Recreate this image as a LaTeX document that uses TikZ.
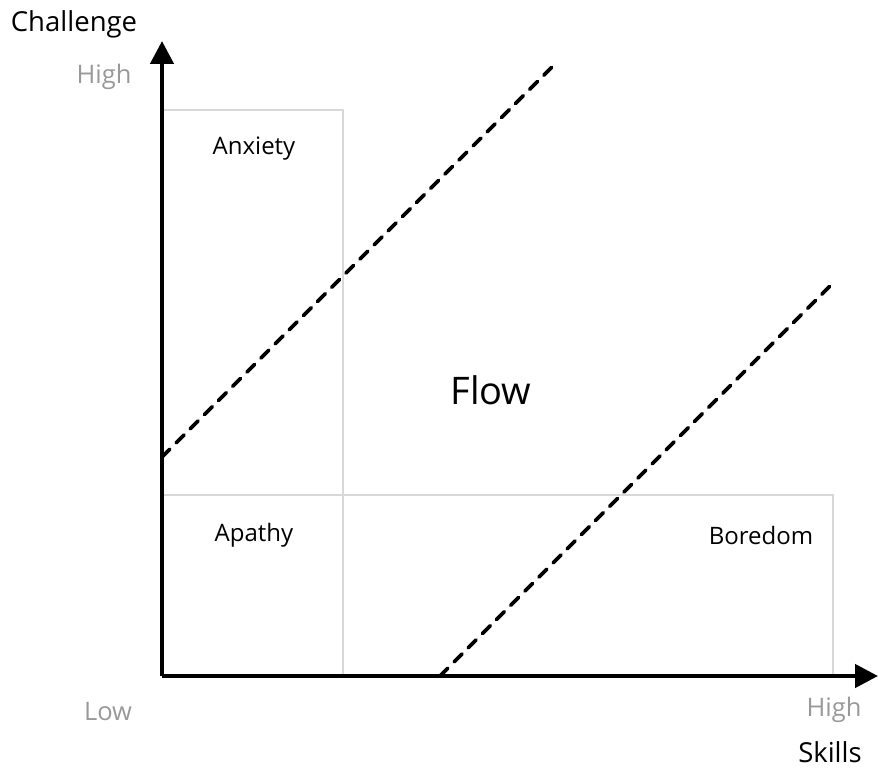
\documentclass[tikz,border=0pt]{standalone}
\usepackage{fontspec}
\setmainfont{Open Sans}
\usetikzlibrary{arrows.meta}
\definecolor{axisgray}{HTML}{999999}
\definecolor{gridgray}{HTML}{D8D8D8}
\tikzset{
  axisline/.style={line width=4.5pt, -{Triangle[length=23pt,width=23pt]}},
  gridline/.style={draw=gridgray, line width=1.5pt},
  flowline/.style={line width=3.8pt, dash pattern=on 11pt off 9pt, line cap=round},
  zonelabel/.style={font=\fontsize{24}{28}\selectfont, text=black, inner sep=0pt},
  levellabel/.style={font=\fontsize{25.5}{30}\selectfont, text=axisgray, inner sep=0pt},
  axislabel/.style={font=\fontsize{27.5}{32}\selectfont, text=black, inner sep=0pt},
}
\begin{document}
\begin{tikzpicture}[x=1pt,y=-1pt]
\useasboundingbox (0,0) rectangle (878,770);
% grid
\draw[gridline] (162,110) -- (343,110) -- (343,676);
\draw[gridline] (162,495) -- (833,495) -- (833,676);
% coordinates
\coordinate (origin) at (162,676);
\coordinate (ytip) at (162,41);
\coordinate (xtip) at (878,676);
\coordinate (d1a) at (162,457);
\coordinate (d1b) at (555,64);
\coordinate (d2a) at (440,676);
\coordinate (d2b) at (834,282);
% dashed flow channel
\draw[flowline] (d1a) -- (d1b);
\draw[flowline] (d2a) -- (d2b);
% axes
\draw[axisline] (origin) -- (ytip);
\draw[axisline] (origin) -- (xtip);
% labels
\node[axislabel] (challenge) at (74,24) {Challenge};
\node[levellabel] (yhigh) at (104,77) {High};
\node[levellabel] (xlow) at (108,712) {Low};
\node[levellabel] (xhigh) at (834,710) {High};
\node[axislabel] (skills) at (830,752) {Skills};
\node[zonelabel] (anxiety) at (254,149) {Anxiety};
\node[zonelabel] (apathy) at (254,535) {Apathy};
\node[zonelabel] (boredom) at (761,535) {Boredom};
\node[font=\fontsize{38}{44}\selectfont, inner sep=0pt] (flow) at (491,390) {Flow};
\end{tikzpicture}
\end{document}
